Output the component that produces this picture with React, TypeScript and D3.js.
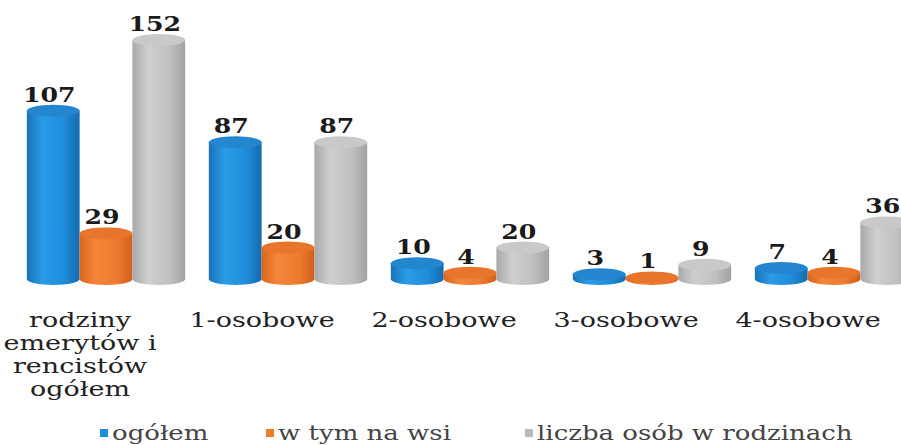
import * as d3 from "d3";

const W = 901;
const H = 445;

const categories = [
  ["rodziny", "emerytów i", "rencistów", "ogółem"],
  ["1-osobowe"],
  ["2-osobowe"],
  ["3-osobowe"],
  ["4-osobowe"],
];
const seriesNames = ["ogółem", "w tym na wsi", "liczba osób w rodzinach"];
const ogolem = [107, 87, 10, 3, 7];
const naWsi = [29, 20, 4, 1, 4];
const liczbaOsob = [152, 87, 20, 9, 36];

const seriesValues = [ogolem, naWsi, liczbaOsob];
const colors = [
  { id: "blue", stops: ["#1a73b8", "#2a9ce8", "#1f8ddb", "#166aae"], top: "#2486cf", legend: "#1e8fdc" },
  { id: "orange", stops: ["#d9661f", "#f4863a", "#ee7b2d", "#d2601c"], top: "#e9752a", legend: "#ef7a2c" },
  { id: "gray", stops: ["#a9a9a9", "#cfcfcf", "#c0c0c0", "#a2a2a2"], top: "#c9c9c9", legend: "#b9b9bd" },
];

const SERIF = "'DejaVu Serif', serif";
const RY = 6;

export default function App() {
  const x = d3
    .scaleBand<number>()
    .domain(d3.range(categories.length))
    .range([15, 925])
    .paddingInner(0.13)
    .paddingOuter(0.065);

  const xs = d3
    .scaleBand<number>()
    .domain(d3.range(seriesNames.length))
    .range([0, x.bandwidth()]);

  const y = d3.scaleLinear().domain([0, 152]).range([279, 40]);

  const bw = xs.bandwidth();

  const legendX = [100, 266, 525];

  return (
    <svg
      width={W}
      height={H}
      style={{ position: "absolute", left: 0, top: 0, background: "#fff" }}
    >
      <defs>
        {colors.map((c) => (
          <linearGradient key={c.id} id={`g-${c.id}`} x1="0" x2="1" y1="0" y2="0">
            <stop offset="0%" stopColor={c.stops[0]} />
            <stop offset="30%" stopColor={c.stops[1]} />
            <stop offset="70%" stopColor={c.stops[2]} />
            <stop offset="100%" stopColor={c.stops[3]} />
          </linearGradient>
        ))}
      </defs>

      {/* cylindry */}
      {categories.map((_, ci) =>
        seriesValues.map((vals, si) => {
          const x0 = (x(ci) ?? 0) + (xs(si) ?? 0);
          const cx = x0 + bw / 2;
          const yTop = y(vals[ci]);
          const yBase = y(0);
          const c = colors[si];
          return (
            <g key={`${ci}-${si}`}>
              <rect x={x0} y={yTop} width={bw} height={yBase - yTop} fill={`url(#g-${c.id})`} />
              <ellipse cx={cx} cy={yBase} rx={bw / 2} ry={RY} fill={`url(#g-${c.id})`} />
              <ellipse cx={cx} cy={yTop} rx={bw / 2} ry={RY} fill={c.top} />
            </g>
          );
        })
      )}

      {/* wartości */}
      {categories.map((_, ci) =>
        seriesValues.map((vals, si) => {
          const cx = (x(ci) ?? 0) + (xs(si) ?? 0) + bw / 2 - 4;
          return (
            <g key={`v-${ci}-${si}`} transform={`translate(${cx},${y(vals[ci]) - 9}) scale(1.2,1)`}>
              <text textAnchor="middle" fontFamily={SERIF} fontWeight="bold" fontSize={21} fill="#1a1a1a">
                {vals[ci]}
              </text>
            </g>
          );
        })
      )}

      {/* etykiety kategorii */}
      {categories.map((lines, ci) => {
        const cx = (x(ci) ?? 0) + x.bandwidth() / 2 - 26;
        return (
          <g key={`c-${ci}`} transform={`translate(${cx},327) scale(1.35,1)`}>
            {lines.map((l, li) => (
              <text key={li} y={li * 23} textAnchor="middle" fontFamily={SERIF} fontSize={20} fill="#222">
                {l}
              </text>
            ))}
          </g>
        );
      })}

      {/* legenda */}
      {seriesNames.map((name, si) => (
        <g key={`l-${si}`}>
          <rect x={legendX[si]} y={429} width={8} height={8} fill={colors[si].legend} />
          <g transform={`translate(${legendX[si] + 12},440) scale(1.3,1)`}>
            <text fontFamily={SERIF} fontSize={20} fill="#444">
              {name}
            </text>
          </g>
        </g>
      ))}
    </svg>
  );
}
